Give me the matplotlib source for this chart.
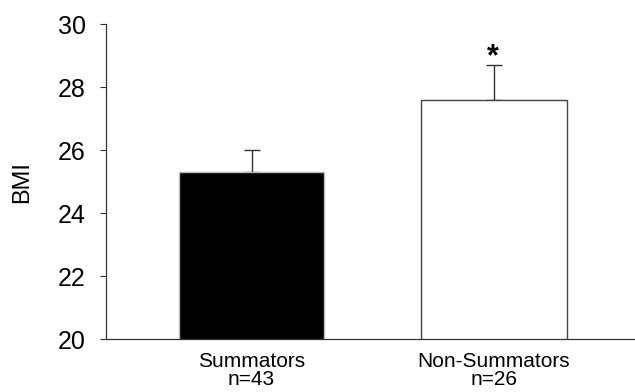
import matplotlib
matplotlib.use('Agg')
import matplotlib.pyplot as plt

GROUPS = ['Summators\nn=43', 'Non-Summators\nn=26']
BMI_MEAN = [25.3, 27.6]
BMI_SEM = [0.7, 1.1]
SIGNIFICANT = [False, True]
COLOURS = ['black', 'white']

plt.rcParams['font.family'] = ['Liberation Sans', 'DejaVu Sans']

fig = plt.figure(figsize=(6.35, 3.92), dpi=100)
ax = fig.add_axes([0.167, 0.135, 0.84, 0.803])

x = range(len(GROUPS))
ax.bar(x, BMI_MEAN, width=0.6, color=COLOURS,
	edgecolor=['#bbbbbb', '#444444'], linewidth=1.0, zorder=2)
# upper error bars only
ax.errorbar(x, BMI_MEAN, yerr=[[0] * len(BMI_SEM), BMI_SEM], fmt='none',
	ecolor='#333333', elinewidth=1.0, capsize=5.5, capthick=1.0, zorder=1)

for i, sig in enumerate(SIGNIFICANT):
	if sig:
		ax.annotate('*', (i, BMI_MEAN[i] + BMI_SEM[i]), xytext=(-1, -5),
			textcoords='offset points', ha='center', va='bottom',
			fontsize=22, fontweight='bold')

ax.set_xlim(-0.6, 1.6)
ax.set_ylim(20, 30)
ax.set_yticks(range(20, 31, 2))
ax.set_xticks(list(x))
ax.set_xticklabels(GROUPS, fontsize=15, linespacing=0.95)
ax.tick_params(axis='x', length=0, pad=9)
ax.tick_params(axis='y', labelsize=18, length=4.5, width=0.8,
	color='#333333', pad=10)
ax.set_ylabel('BMI', fontsize=17, labelpad=18)

for side in ['top', 'right']:
	ax.spines[side].set_visible(False)
for side in ['left', 'bottom']:
	ax.spines[side].set_color('#333333')
	ax.spines[side].set_linewidth(0.9)

plt.savefig('out.png', dpi=100)
